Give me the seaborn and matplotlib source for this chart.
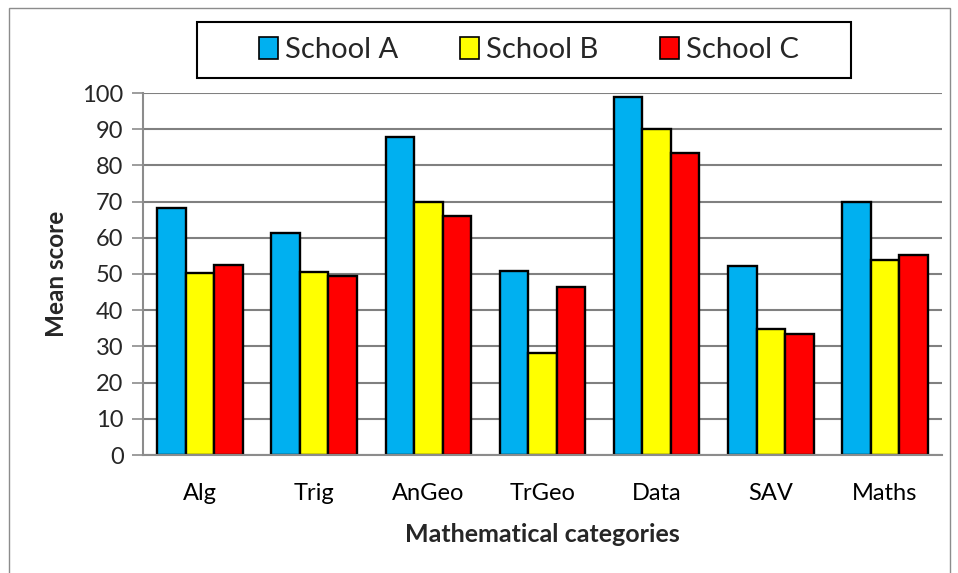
import matplotlib
matplotlib.use("Agg")
import matplotlib.pyplot as plt
from matplotlib.patches import Rectangle
from matplotlib.ticker import FixedLocator
import seaborn as sns
import pandas as pd

categories = ["Alg", "Trig", "AnGeo", "TrGeo", "Data", "SAV", "Maths"]
school_a = [68.1, 61.4, 87.8, 50.8, 98.9, 52.2, 69.8]
school_b = [50.4, 50.6, 70.0, 28.2, 90.1, 34.7, 53.9]
school_c = [52.5, 49.5, 66.1, 46.3, 83.3, 33.4, 55.2]
schools = ["School A", "School B", "School C"]
colors = ["#00B0F0", "#FFFF00", "#FF0000"]

rows = []
for name, vals in zip(schools, [school_a, school_b, school_c]):
    for cat, v in zip(categories, vals):
        rows.append({"Category": cat, "School": name, "Score": v})
df = pd.DataFrame(rows)

sns.set_theme(style="white")
plt.rcParams["font.family"] = ["Lato", "DejaVu Sans"]

fig = plt.figure(figsize=(9.58, 5.73), dpi=100)
ax = fig.add_axes([143 / 958, 1 - 455 / 573, 799 / 958, 362 / 573])

sns.barplot(data=df, x="Category", y="Score", hue="School", order=categories,
            hue_order=schools, palette=colors, width=0.75,
            edgecolor="black", linewidth=1.7, saturation=1, ax=ax, legend=False)

ax.set_ylim(0, 100)
ax.set_xlim(-0.5, len(categories) - 0.5)
ax.set_yticks(range(0, 101, 10))
ax.yaxis.grid(True, color="#808080", linewidth=1.5)
ax.set_axisbelow(True)

gray = "#8c8c8c"
for side in ["top", "right"]:
    ax.spines[side].set_visible(False)
for side in ["left", "bottom"]:
    ax.spines[side].set_color(gray)
    ax.spines[side].set_linewidth(1.5)

# tick marks sit between the category groups
ax.xaxis.set_minor_locator(FixedLocator([i - 0.5 for i in range(len(categories) + 1)]))
ax.tick_params(axis="x", which="major", length=0, pad=20, labelsize=17, colors="black")
ax.tick_params(axis="x", which="minor", length=9, width=1.2, color=gray, direction="out")
ax.tick_params(axis="y", which="major", length=8, width=1.2, color=gray, direction="out",
               labelsize=17, pad=6, left=True)

ax.set_xlabel("Mathematical categories", fontsize=18, fontweight="bold", labelpad=14)
ax.set_ylabel("Mean score", fontsize=17.5, fontweight="bold", labelpad=10)

# legend box with a wide inner margin
fig.patches.append(Rectangle((197 / 958, 1 - 78 / 573), 654 / 958, 56 / 573,
                             transform=fig.transFigure, fill=True, facecolor="white",
                             edgecolor="black", linewidth=1.5, zorder=5))
handles = [Rectangle((0, 0), 1, 1, facecolor=c, edgecolor="black", linewidth=1.2) for c in colors]
leg = fig.legend(handles, schools, loc="center", bbox_to_anchor=(529 / 958, 1 - 50 / 573),
                 ncol=3, fontsize=21, frameon=False,
                 handlelength=0.65, handleheight=0.75, handletextpad=0.25, columnspacing=2.1)
leg.set_zorder(6)

fig.patches.append(Rectangle((9 / 958, -0.1), 941 / 958, 1.1 - 8 / 573, transform=fig.transFigure,
                             fill=False, edgecolor="#8c8c8c", linewidth=1.0))

fig.savefig("out.png", dpi=100)
